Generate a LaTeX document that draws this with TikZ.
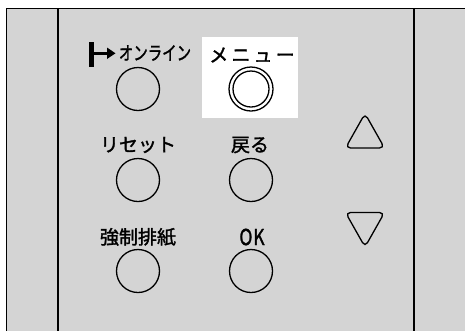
\documentclass[tikz,border=0pt]{standalone}
\usepackage{fontspec}
\usepackage{graphicx}
\newfontfamily\jp[FakeBold=1.6]{Noto Sans CJK JP}
\definecolor{panel}{RGB}{212,212,212}
\begin{document}
\begin{tikzpicture}[x=1pt,y=-1pt,
  btn/.style={circle,draw=black,line width=1.3pt,minimum size=43pt,inner sep=0pt},
  lbl/.style={inner sep=0pt,font=\jp\fontsize{19}{19}\selectfont},
  edge/.style={line width=1.6pt,draw=black}]
\useasboundingbox (0,0) rectangle (465,330);
\fill[white] (0,0) rectangle (465,330);
\fill[panel] (6.5,8.5) rectangle (465,331);
\draw[edge] (6.5,331) -- (6.5,8.5) -- (466,8.5);
\draw[edge] (58,8.5) -- (58,331);
\draw[edge] (414,8.5) -- (414,331);
\fill[white] (202,37) rectangle (298,118);
% buttons
\node[btn] (online) at (138,89) {};
\node[btn,minimum size=44pt] (menu) at (251,89) {};
\node[btn,minimum size=36pt] (menuin) at (251,89) {};
\node[btn] (reset) at (138,180) {};
\node[btn] (back) at (251,180) {};
\node[btn] (eject) at (138,271) {};
\node[btn] (ok) at (251,271) {};
% labels
\node[lbl] (tonline) at (155,53) {\scalebox{0.76}[1]{オンライン}};
\node[lbl] (tmenu) at (252,55) {メ\,ニ\,ュ\,ー};
\node[lbl] (treset) at (138,145) {リセット};
\node[lbl] (tback) at (250,145) {戻る};
\node[lbl] (teject) at (138,237) {強制排紙};
\node[lbl,font=\jp\fontsize{22}{22}\selectfont] (tok) at (252,237) {\scalebox{0.8}[1]{O\kern1ptK}};
% online arrow
\fill (88.5,42) rectangle (94,67);
\fill (94,51.5) rectangle (108,55);
\fill (107,47.5) -- (115.5,53.3) -- (107,59) -- cycle;
% triangles
\draw[line width=1.3pt,rounded corners=5pt] (365,113.5) -- (384.5,148) -- (345.5,148) -- cycle;
\draw[line width=1.3pt,rounded corners=5pt] (345.5,212.5) -- (384.5,212.5) -- (365,247) -- cycle;
\end{tikzpicture}
\end{document}
